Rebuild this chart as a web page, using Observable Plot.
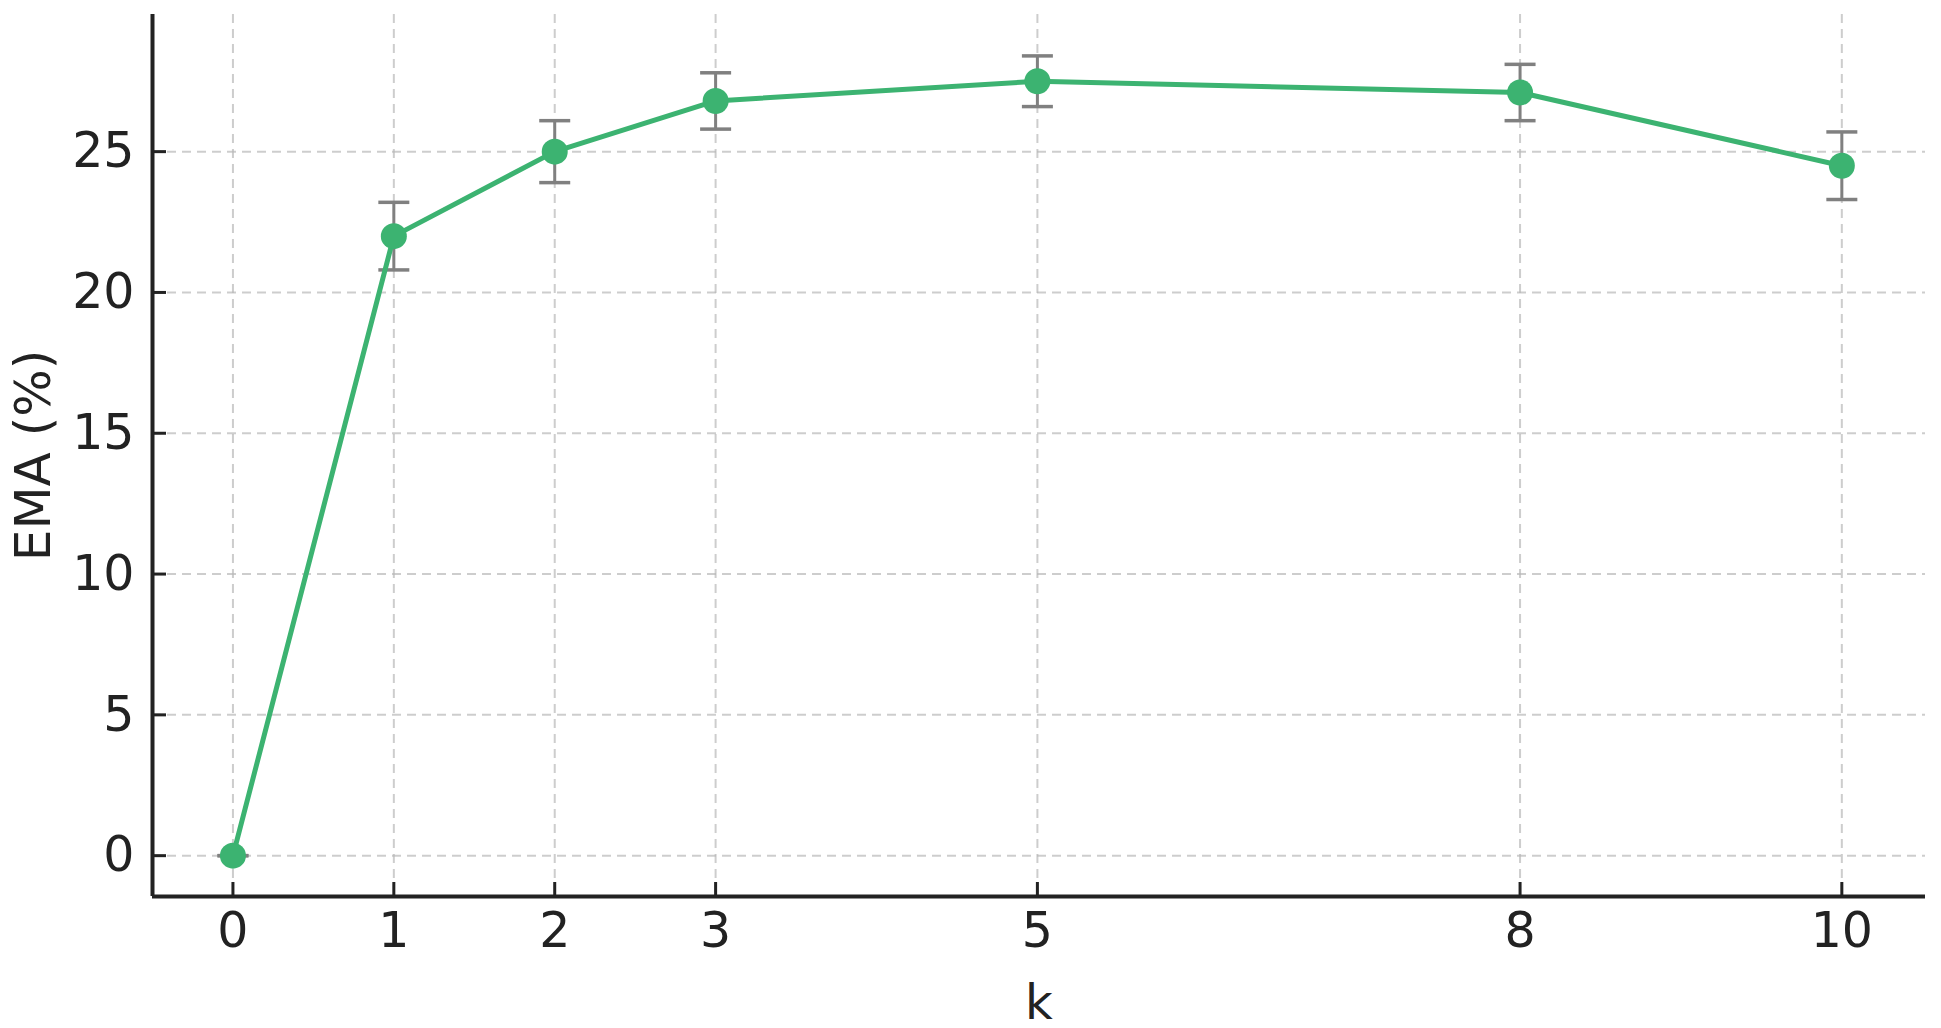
<!DOCTYPE html>
<html>
<head>
<meta charset="utf-8">
<script src="https://cdn.jsdelivr.net/npm/d3@7"></script>
<script src="https://cdn.jsdelivr.net/npm/@observablehq/plot@0.6"></script>
<style>
  html, body { margin: 0; padding: 0; background: #fff; }
  #chart svg { display: block; }
</style>
</head>
<body>
<div id="chart"></div>
<script>
const kValues = [0, 1, 2, 3, 5, 8, 10];
const emaValues = [0, 22.0, 25.0, 26.8, 27.5, 27.1, 24.5];
const errValues = [0, 1.2, 1.1, 1.0, 0.9, 1.0, 1.2];
const xTicks = [0, 1, 2, 3, 5, 8, 10];
const yTicks = [0, 5, 10, 15, 20, 25];
const xLabel = "k";
const yLabel = "EMA (%)";
const xDomain = [-0.5, 10.52];
const yDomain = [-1.45, 29.87];

const data = kValues.map((k, i) => ({k, v: emaValues[i], e: errValues[i]}));

const capSymbol = {
  draw(context, size) {
    const w = Math.sqrt(size / Math.PI);
    context.moveTo(-w, 0);
    context.lineTo(w, 0);
  }
};

const FONT = "DejaVu Sans";
const green = "#3CB371";
const axisColor = "#222222";

const chart = Plot.plot({
  width: 1941,
  height: 1028,
  marginLeft: 152,
  marginRight: 16,
  marginTop: 14,
  marginBottom: 132,
  style: {fontFamily: FONT, fontSize: "49px", color: axisColor, background: "#fff"},
  x: {domain: xDomain, ticks: xTicks},
  y: {domain: yDomain, ticks: yTicks},
  marks: [
    Plot.gridX(xTicks, {stroke: "#b8b8b8", strokeOpacity: 0.7, strokeWidth: 2, strokeDasharray: "9,6"}),
    Plot.gridY(yTicks, {stroke: "#b8b8b8", strokeOpacity: 0.7, strokeWidth: 2, strokeDasharray: "9,6"}),
    Plot.axisX(xTicks, {tickSize: -14, tickPadding: 30, strokeWidth: 3, stroke: axisColor, fill: axisColor, fontSize: 49, label: null, tickFormat: d => String(d)}),
    Plot.axisY(yTicks, {tickSize: -14, tickPadding: 32, strokeWidth: 3, stroke: axisColor, fill: axisColor, fontSize: 49, label: null, tickFormat: d => String(d)}),
    Plot.ruleX([xDomain[0]], {stroke: axisColor, strokeWidth: 4}),
    Plot.ruleY([yDomain[0]], {stroke: axisColor, strokeWidth: 4}),
    Plot.ruleX(data, {x: "k", y1: d => d.v - d.e, y2: d => d.v + d.e, stroke: "#808080", strokeWidth: 3}),
    Plot.dot(data, {x: "k", y: d => d.v - d.e, symbol: capSymbol, r: 15.5, stroke: "#808080", strokeWidth: 3.5}),
    Plot.dot(data, {x: "k", y: d => d.v + d.e, symbol: capSymbol, r: 15.5, stroke: "#808080", strokeWidth: 3.5}),
    Plot.line(data, {x: "k", y: "v", stroke: green, strokeWidth: 5}),
    Plot.dot(data, {x: "k", y: "v", r: 13, fill: green, stroke: "none"}),
    Plot.text([xLabel], {frameAnchor: "bottom", textAnchor: "middle", lineAnchor: "top", dy: 88, fontSize: 48, fill: axisColor}),
    Plot.text([yLabel], {frameAnchor: "left", textAnchor: "middle", lineAnchor: "middle", dx: -119, rotate: -90, fontSize: 50, fill: axisColor})
  ]
});
document.getElementById("chart").appendChild(chart);
</script>
</body>
</html>
